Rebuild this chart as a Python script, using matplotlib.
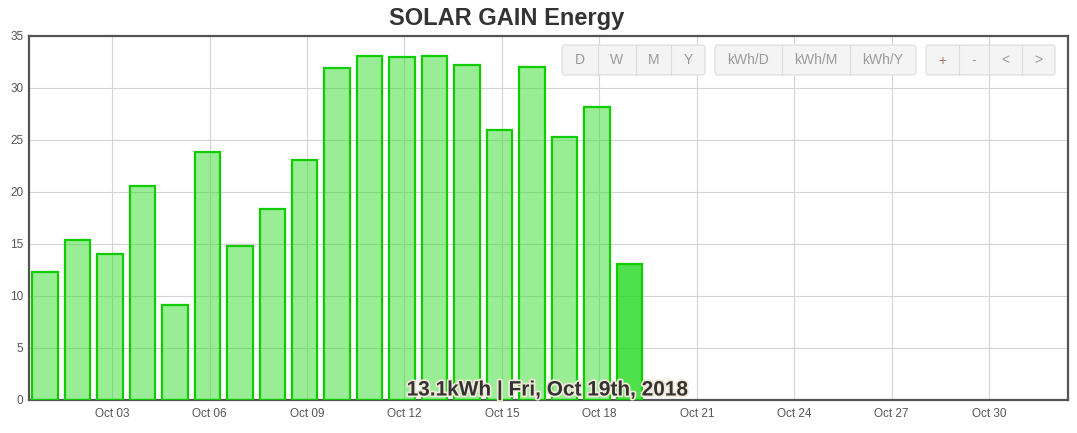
import matplotlib
matplotlib.use("Agg")
from matplotlib import pyplot as plt
from matplotlib.patches import FancyBboxPatch
import matplotlib.patheffects as pe

plt.rcParams['font.family'] = ['Liberation Sans', 'DejaVu Sans']

# daily energy in kWh, Oct 01 .. Oct 19 2018
days = list(range(1, 20))
energy = [12.3, 15.4, 14.05, 20.6, 9.1, 23.85, 14.8, 18.4, 23.1, 31.9,
          33.1, 33.0, 33.1, 32.2, 26.0, 32.0, 25.3, 28.2, 13.1]
tick_days = [3, 6, 9, 12, 15, 18, 21, 24, 27, 30]
tick_labels = ["Oct %02d" % d for d in tick_days]
y_ticks = [0, 5, 10, 15, 20, 25, 30, 35]

W, H = 1077, 433
fig = plt.figure(figsize=(W / 100, H / 100), dpi=100)
ax = fig.add_axes([29 / W, 1 - 400 / H, (1068 - 29) / W, (400 - 36) / H])

# semi-transparent fill so the grid shows through, like the original
fills = [(53 / 255, 221 / 255, 45 / 255, 0.5)] * (len(days) - 1) + \
        [(40 / 255, 219 / 255, 35 / 255, 0.82)]
bars = ax.bar(days, energy, width=0.785, color=fills, edgecolor='#11cc00',
              linewidth=1.6, zorder=3)

ax.set_xlim(0.51, 32.5)
ax.set_ylim(0, 35)
ax.set_xticks([d + 0.07 for d in tick_days])
ax.set_xticklabels(tick_labels)
ax.set_yticks(y_ticks)
ax.tick_params(length=0, labelsize=8.5, colors='#555555', pad=6)
ax.tick_params(axis='y', pad=4)
ax.grid(True, color='#d4d4d4', linewidth=0.8, zorder=0)
for s in ax.spines.values():
    s.set_color('#545454')
    s.set_linewidth(1.6)

fig.text(507 / W, 1 - 18 / H, "SOLAR GAIN Energy", ha='center', va='center',
         fontsize=17, fontweight='bold', color='#333333')

last = days[-1]
txt = "%.1fkWh | Fri, Oct %dth, 2018" % (energy[-1], last)
fig.text(548 / W, 1 - 390 / H, txt, ha='center', va='center', fontsize=15,
         fontweight='bold', color='#333333', zorder=10,
         path_effects=[pe.withStroke(linewidth=2.5, foreground='#f0e8d8')])

# button bar overlay in pixel coordinates
ov = fig.add_axes([0, 0, 1, 1], facecolor='none')
ov.set_xlim(0, W)
ov.set_ylim(H, 0)
ov.axis('off')

groups = [
    (562, 705, [598, 636, 671], ["D", "W", "M", "Y"]),
    (715, 916, [782, 850], ["kWh/D", "kWh/M", "kWh/Y"]),
    (926, 1055, [959, 989, 1022], ["+", "-", "<", ">"]),
]
y0, y1 = 45, 75
for x0, x1, divs, labels in groups:
    ov.add_patch(FancyBboxPatch((x0, y0), x1 - x0, y1 - y0,
                                boxstyle="round,pad=0,rounding_size=3",
                                facecolor='#f4f4f4', edgecolor='#dcdcdc',
                                linewidth=0.8, zorder=5))
    edges = [x0] + divs + [x1]
    for d in divs:
        ov.plot([d, d], [y0, y1], color='#dcdcdc', linewidth=0.8, zorder=6)
    for i, lab in enumerate(labels):
        cx = (edges[i] + edges[i + 1]) / 2
        col = '#b07a62' if lab == "+" else '#9a9a9a'
        ov.text(cx, (y0 + y1) / 2 + 0.5, lab, ha='center', va='center',
                fontsize=10, color=col, zorder=7)

fig.savefig("out.png", dpi=100)
